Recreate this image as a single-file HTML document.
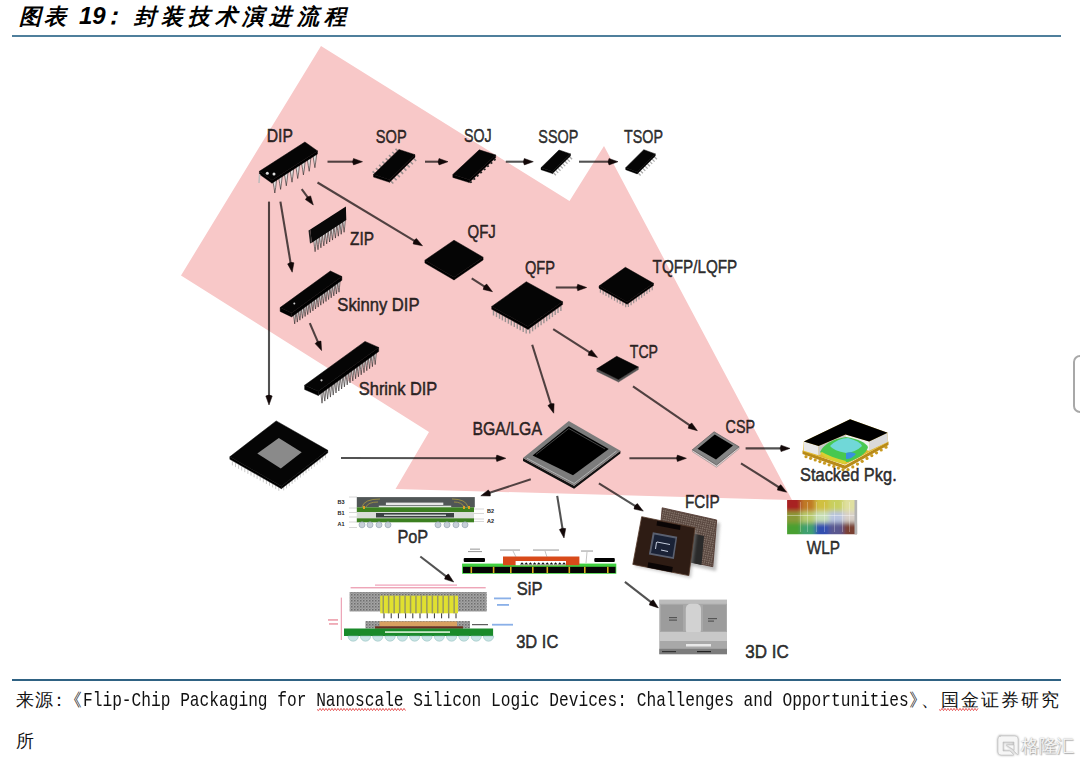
<!DOCTYPE html>
<html><head><meta charset="utf-8">
<style>
html,body{margin:0;padding:0;background:#fff;}
body{width:1080px;height:765px;position:relative;overflow:hidden;font-family:"Liberation Sans",sans-serif;}
svg{position:absolute;left:0;top:0;}
.t{position:absolute;white-space:nowrap;}
</style></head><body>
<svg width="1080" height="765" viewBox="0 0 1080 765">
<rect x="12" y="35" width="1049" height="2" fill="#4f7f9c"/>
<rect x="12" y="679" width="1049" height="2" fill="#2f6283"/>
<polygon points="321,46 569.5,201 604,146 792,500 395.5,489 429,432 181,275.5" fill="#f8c8c8"/>
<line x1="327.5" y1="161.7" x2="355.5" y2="161.7" stroke="#000" stroke-opacity="0.68" stroke-width="2.1"/><path d="M362.5,161.7 L353.5,164.9 Q351.7,161.7 353.5,158.5 Z" fill="#120808" stroke="#120808" stroke-width="0.5" stroke-linejoin="round"/>
<line x1="425.0" y1="161.7" x2="441.0" y2="161.7" stroke="#000" stroke-opacity="0.68" stroke-width="2.1"/><path d="M448.0,161.7 L439.0,164.9 Q437.2,161.7 439.0,158.5 Z" fill="#120808" stroke="#120808" stroke-width="0.5" stroke-linejoin="round"/>
<line x1="505.8" y1="161.7" x2="526.3" y2="161.7" stroke="#000" stroke-opacity="0.68" stroke-width="2.1"/><path d="M533.3,161.7 L524.3,164.9 Q522.5,161.7 524.3,158.5 Z" fill="#120808" stroke="#120808" stroke-width="0.5" stroke-linejoin="round"/>
<line x1="579.0" y1="161.7" x2="611.0" y2="161.7" stroke="#000" stroke-opacity="0.68" stroke-width="2.1"/><path d="M618.0,161.7 L609.0,164.9 Q607.2,161.7 609.0,158.5 Z" fill="#120808" stroke="#120808" stroke-width="0.5" stroke-linejoin="round"/>
<line x1="301.7" y1="189.2" x2="309.2" y2="199.4" stroke="#000" stroke-opacity="0.68" stroke-width="2.1"/><path d="M313.3,205.0 L305.4,199.6 Q306.9,196.3 310.6,195.9 Z" fill="#120808" stroke="#120808" stroke-width="0.5" stroke-linejoin="round"/>
<line x1="317.5" y1="182.5" x2="416.5" y2="242.2" stroke="#000" stroke-opacity="0.68" stroke-width="2.1"/><path d="M422.5,245.8 L413.1,243.9 Q413.3,240.2 416.4,238.4 Z" fill="#120808" stroke="#120808" stroke-width="0.5" stroke-linejoin="round"/>
<line x1="269.0" y1="201.6" x2="269.0" y2="398.0" stroke="#000" stroke-opacity="0.68" stroke-width="2.1"/><path d="M269.0,405.0 L265.8,396.0 Q269.0,394.2 272.2,396.0 Z" fill="#120808" stroke="#120808" stroke-width="0.5" stroke-linejoin="round"/>
<line x1="280.4" y1="201.6" x2="291.0" y2="265.3" stroke="#000" stroke-opacity="0.68" stroke-width="2.1"/><path d="M292.2,272.2 L287.6,263.9 Q290.4,261.5 293.9,262.8 Z" fill="#120808" stroke="#120808" stroke-width="0.5" stroke-linejoin="round"/>
<line x1="309.8" y1="323.1" x2="318.8" y2="344.2" stroke="#000" stroke-opacity="0.68" stroke-width="2.1"/><path d="M321.6,350.6 L315.1,343.6 Q317.3,340.7 321.0,341.1 Z" fill="#120808" stroke="#120808" stroke-width="0.5" stroke-linejoin="round"/>
<line x1="471.7" y1="278.3" x2="486.6" y2="287.9" stroke="#000" stroke-opacity="0.68" stroke-width="2.1"/><path d="M492.5,291.7 L483.2,289.5 Q483.4,285.9 486.7,284.1 Z" fill="#120808" stroke="#120808" stroke-width="0.5" stroke-linejoin="round"/>
<line x1="555.8" y1="287.5" x2="579.7" y2="287.5" stroke="#000" stroke-opacity="0.68" stroke-width="2.1"/><path d="M586.7,287.5 L577.7,290.7 Q575.9,287.5 577.7,284.3 Z" fill="#120808" stroke="#120808" stroke-width="0.5" stroke-linejoin="round"/>
<line x1="553.2" y1="329.2" x2="591.6" y2="353.6" stroke="#000" stroke-opacity="0.68" stroke-width="2.1"/><path d="M597.5,357.4 L588.2,355.3 Q588.4,351.6 591.6,349.9 Z" fill="#120808" stroke="#120808" stroke-width="0.5" stroke-linejoin="round"/>
<line x1="532.2" y1="344.8" x2="551.6" y2="406.5" stroke="#000" stroke-opacity="0.68" stroke-width="2.1"/><path d="M553.7,413.2 L547.9,405.6 Q550.5,402.9 554.1,403.7 Z" fill="#120808" stroke="#120808" stroke-width="0.5" stroke-linejoin="round"/>
<line x1="633.0" y1="386.4" x2="691.6" y2="426.7" stroke="#000" stroke-opacity="0.68" stroke-width="2.1"/><path d="M697.4,430.7 L688.2,428.2 Q688.5,424.6 691.8,423.0 Z" fill="#120808" stroke="#120808" stroke-width="0.5" stroke-linejoin="round"/>
<line x1="341.0" y1="458.0" x2="498.8" y2="458.3" stroke="#000" stroke-opacity="0.68" stroke-width="2.1"/><path d="M505.8,458.3 L496.8,461.5 Q495.0,458.3 496.8,455.1 Z" fill="#120808" stroke="#120808" stroke-width="0.5" stroke-linejoin="round"/>
<line x1="629.4" y1="458.3" x2="679.4" y2="458.3" stroke="#000" stroke-opacity="0.68" stroke-width="2.1"/><path d="M686.4,458.3 L677.4,461.5 Q675.6,458.3 677.4,455.1 Z" fill="#120808" stroke="#120808" stroke-width="0.5" stroke-linejoin="round"/>
<line x1="745.6" y1="448.4" x2="783.0" y2="448.4" stroke="#000" stroke-opacity="0.68" stroke-width="2.1"/><path d="M790.0,448.4 L781.0,451.6 Q779.2,448.4 781.0,445.2 Z" fill="#120808" stroke="#120808" stroke-width="0.5" stroke-linejoin="round"/>
<line x1="741.0" y1="463.3" x2="780.8" y2="488.5" stroke="#000" stroke-opacity="0.68" stroke-width="2.1"/><path d="M786.7,492.2 L777.4,490.1 Q777.6,486.4 780.8,484.7 Z" fill="#120808" stroke="#120808" stroke-width="0.5" stroke-linejoin="round"/>
<line x1="530.8" y1="479.2" x2="487.4" y2="493.6" stroke="#000" stroke-opacity="0.68" stroke-width="2.1"/><path d="M480.8,495.8 L488.3,489.9 Q491.0,492.4 490.3,496.0 Z" fill="#120808" stroke="#120808" stroke-width="0.5" stroke-linejoin="round"/>
<line x1="557.2" y1="495.8" x2="562.9" y2="531.1" stroke="#000" stroke-opacity="0.68" stroke-width="2.1"/><path d="M564.0,538.0 L559.4,529.6 Q562.3,527.3 565.7,528.6 Z" fill="#120808" stroke="#120808" stroke-width="0.5" stroke-linejoin="round"/>
<line x1="598.9" y1="483.3" x2="637.4" y2="507.4" stroke="#000" stroke-opacity="0.68" stroke-width="2.1"/><path d="M643.3,511.1 L634.0,509.0 Q634.1,505.4 637.4,503.6 Z" fill="#120808" stroke="#120808" stroke-width="0.5" stroke-linejoin="round"/>
<line x1="420.3" y1="556.5" x2="448.1" y2="577.8" stroke="#000" stroke-opacity="0.68" stroke-width="2.1"/><path d="M453.7,582.0 L444.6,579.1 Q445.1,575.4 448.5,574.0 Z" fill="#120808" stroke="#120808" stroke-width="0.5" stroke-linejoin="round"/>
<line x1="624.9" y1="581.8" x2="652.9" y2="603.6" stroke="#000" stroke-opacity="0.68" stroke-width="2.1"/><path d="M658.4,607.9 L649.3,604.9 Q649.9,601.3 653.3,599.8 Z" fill="#120808" stroke="#120808" stroke-width="0.5" stroke-linejoin="round"/>

<polygon points="272.8,180.5 276.6,179.3 275.7,187.4 274.8,193.0 274.0,187.4" fill="#e2dede" stroke="#1a1414" stroke-width="0.55" stroke-linejoin="round"/><polygon points="278.6,176.9 282.3,175.7 281.4,183.7 280.6,189.4 279.7,183.7" fill="#e2dede" stroke="#1a1414" stroke-width="0.55" stroke-linejoin="round"/><polygon points="284.3,173.3 288.1,172.1 287.1,180.1 286.3,185.8 285.4,180.1" fill="#e2dede" stroke="#1a1414" stroke-width="0.55" stroke-linejoin="round"/><polygon points="290.0,169.7 293.8,168.5 292.8,176.5 292.0,182.2 291.1,176.5" fill="#e2dede" stroke="#1a1414" stroke-width="0.55" stroke-linejoin="round"/><polygon points="295.7,166.0 299.5,164.9 298.6,172.9 297.7,178.5 296.9,172.9" fill="#e2dede" stroke="#1a1414" stroke-width="0.55" stroke-linejoin="round"/><polygon points="301.4,162.4 305.2,161.3 304.3,169.3 303.4,174.9 302.6,169.3" fill="#e2dede" stroke="#1a1414" stroke-width="0.55" stroke-linejoin="round"/><polygon points="307.2,158.8 310.9,157.7 310.0,165.7 309.2,171.3 308.3,165.7" fill="#e2dede" stroke="#1a1414" stroke-width="0.55" stroke-linejoin="round"/><polygon points="312.9,155.2 316.7,154.1 315.7,162.1 314.9,167.7 314.0,162.1" fill="#e2dede" stroke="#1a1414" stroke-width="0.55" stroke-linejoin="round"/>
<polygon points="259.4,171.3 272.0,180.2 272.0,183.2 259.4,174.3" fill="#000" stroke="#000" stroke-width="0.4"/><polygon points="272.0,180.2 317.5,150.9 317.5,153.9 272.0,183.2" fill="#000" stroke="#000" stroke-width="0.4"/><polygon points="259.4,171.3 304.9,142.0 317.5,150.9 272.0,180.2" fill="#050505" stroke="#050505" stroke-width="0.5" stroke-linejoin="round"/>
<circle cx="267.3" cy="173.3" r="1.5" fill="#ddd"/><circle cx="274" cy="173.9" r="1.5" fill="#ddd"/>
<line x1="259.6" y1="174" x2="259" y2="183" stroke="#bbb" stroke-width="1.5"/>
<line x1="390.8" y1="181.0" x2="393.3" y2="183.5" stroke="#9a9090" stroke-width="1.6"/><line x1="394.1" y1="177.8" x2="396.6" y2="180.3" stroke="#9a9090" stroke-width="1.6"/><line x1="397.3" y1="174.6" x2="399.8" y2="177.1" stroke="#9a9090" stroke-width="1.6"/><line x1="400.6" y1="171.4" x2="403.1" y2="173.9" stroke="#9a9090" stroke-width="1.6"/><line x1="403.9" y1="168.1" x2="406.4" y2="170.6" stroke="#9a9090" stroke-width="1.6"/><line x1="407.2" y1="164.9" x2="409.7" y2="167.4" stroke="#9a9090" stroke-width="1.6"/><line x1="410.4" y1="161.7" x2="412.9" y2="164.2" stroke="#9a9090" stroke-width="1.6"/><line x1="413.7" y1="158.5" x2="416.2" y2="161.0" stroke="#9a9090" stroke-width="1.6"/>
<line x1="374.8" y1="173.3" x2="372.6" y2="171.3" stroke="#9a9090" stroke-width="1.6"/><line x1="378.1" y1="170.1" x2="375.9" y2="168.1" stroke="#9a9090" stroke-width="1.6"/><line x1="381.3" y1="166.9" x2="379.1" y2="164.9" stroke="#9a9090" stroke-width="1.6"/><line x1="384.6" y1="163.7" x2="382.4" y2="161.7" stroke="#9a9090" stroke-width="1.6"/><line x1="387.9" y1="160.4" x2="385.7" y2="158.4" stroke="#9a9090" stroke-width="1.6"/><line x1="391.2" y1="157.2" x2="389.0" y2="155.2" stroke="#9a9090" stroke-width="1.6"/><line x1="394.4" y1="154.0" x2="392.2" y2="152.0" stroke="#9a9090" stroke-width="1.6"/><line x1="397.7" y1="150.8" x2="395.5" y2="148.8" stroke="#9a9090" stroke-width="1.6"/>
<polygon points="373.5,174.6 389.5,179.8 389.5,182.3 373.5,177.1" fill="#000" stroke="#000" stroke-width="0.4"/><polygon points="389.5,179.8 415.0,154.7 415.0,157.2 389.5,182.3" fill="#000" stroke="#000" stroke-width="0.4"/><polygon points="373.5,174.6 399.0,149.5 415.0,154.7 389.5,179.8" fill="#050505" stroke="#050505" stroke-width="0.5" stroke-linejoin="round"/>
<polygon points="452.8,174.6 469.2,179.8 469.2,182.6 452.8,177.4" fill="#000" stroke="#000" stroke-width="0.4"/><polygon points="469.2,179.8 495.7,155.0 495.7,157.8 469.2,182.6" fill="#000" stroke="#000" stroke-width="0.4"/><polygon points="452.8,174.6 479.3,149.8 495.7,155.0 469.2,179.8" fill="#050505" stroke="#050505" stroke-width="0.5" stroke-linejoin="round"/>
<line x1="470.5" y1="181.4" x2="471.3" y2="182.9" stroke="#222" stroke-width="2"/><line x1="473.9" y1="178.2" x2="474.7" y2="179.7" stroke="#222" stroke-width="2"/><line x1="477.3" y1="175.0" x2="478.1" y2="176.5" stroke="#222" stroke-width="2"/><line x1="480.7" y1="171.8" x2="481.5" y2="173.3" stroke="#222" stroke-width="2"/><line x1="484.2" y1="168.6" x2="485.0" y2="170.1" stroke="#222" stroke-width="2"/><line x1="487.6" y1="165.4" x2="488.4" y2="166.9" stroke="#222" stroke-width="2"/><line x1="491.0" y1="162.2" x2="491.8" y2="163.7" stroke="#222" stroke-width="2"/><line x1="494.4" y1="159.0" x2="495.2" y2="160.5" stroke="#222" stroke-width="2"/>
<line x1="553.4" y1="172.7" x2="555.9" y2="175.2" stroke="#aaa" stroke-width="1.3"/><line x1="555.7" y1="170.4" x2="558.2" y2="172.9" stroke="#aaa" stroke-width="1.3"/><line x1="558.0" y1="168.2" x2="560.5" y2="170.7" stroke="#aaa" stroke-width="1.3"/><line x1="560.3" y1="165.9" x2="562.8" y2="168.4" stroke="#aaa" stroke-width="1.3"/><line x1="562.7" y1="163.6" x2="565.2" y2="166.1" stroke="#aaa" stroke-width="1.3"/><line x1="565.0" y1="161.3" x2="567.5" y2="163.8" stroke="#aaa" stroke-width="1.3"/><line x1="567.3" y1="159.1" x2="569.8" y2="161.6" stroke="#aaa" stroke-width="1.3"/><line x1="569.6" y1="156.8" x2="572.1" y2="159.3" stroke="#aaa" stroke-width="1.3"/>
<polygon points="541.0,167.7 552.5,171.6 552.5,173.6 541.0,169.7" fill="#000" stroke="#000" stroke-width="0.4"/><polygon points="552.5,171.6 570.5,153.9 570.5,155.9 552.5,173.6" fill="#000" stroke="#000" stroke-width="0.4"/><polygon points="541.0,167.7 559.0,150.0 570.5,153.9 552.5,171.6" fill="#050505" stroke="#050505" stroke-width="0.5" stroke-linejoin="round"/>
<line x1="638.1" y1="173.0" x2="640.6" y2="175.5" stroke="#aaa" stroke-width="1.3"/><line x1="640.4" y1="170.7" x2="642.9" y2="173.2" stroke="#aaa" stroke-width="1.3"/><line x1="642.8" y1="168.4" x2="645.3" y2="170.9" stroke="#aaa" stroke-width="1.3"/><line x1="645.1" y1="166.1" x2="647.6" y2="168.6" stroke="#aaa" stroke-width="1.3"/><line x1="647.4" y1="163.7" x2="649.9" y2="166.2" stroke="#aaa" stroke-width="1.3"/><line x1="649.7" y1="161.4" x2="652.2" y2="163.9" stroke="#aaa" stroke-width="1.3"/><line x1="652.1" y1="159.1" x2="654.6" y2="161.6" stroke="#aaa" stroke-width="1.3"/><line x1="654.4" y1="156.8" x2="656.9" y2="159.3" stroke="#aaa" stroke-width="1.3"/>
<polygon points="625.7,167.7 637.2,171.9 637.2,173.9 625.7,169.7" fill="#000" stroke="#000" stroke-width="0.4"/><polygon points="637.2,171.9 655.3,153.9 655.3,155.9 637.2,173.9" fill="#000" stroke="#000" stroke-width="0.4"/><polygon points="625.7,167.7 643.8,149.7 655.3,153.9 637.2,171.9" fill="#050505" stroke="#050505" stroke-width="0.5" stroke-linejoin="round"/>
<polygon points="313.6,239.7 316.4,238.8 315.7,246.3 315.1,251.7 314.4,246.3" fill="#e2dede" stroke="#1a1414" stroke-width="0.55" stroke-linejoin="round"/><polygon points="316.5,237.7 319.3,236.9 318.6,244.3 318.0,249.7 317.3,244.3" fill="#e2dede" stroke="#1a1414" stroke-width="0.55" stroke-linejoin="round"/><polygon points="319.4,235.8 322.2,235.0 321.5,242.4 320.9,247.8 320.2,242.4" fill="#e2dede" stroke="#1a1414" stroke-width="0.55" stroke-linejoin="round"/><polygon points="322.3,233.9 325.1,233.0 324.4,240.5 323.8,245.9 323.1,240.5" fill="#e2dede" stroke="#1a1414" stroke-width="0.55" stroke-linejoin="round"/><polygon points="325.2,231.9 328.0,231.1 327.3,238.5 326.7,243.9 326.0,238.5" fill="#e2dede" stroke="#1a1414" stroke-width="0.55" stroke-linejoin="round"/><polygon points="328.1,230.0 330.9,229.2 330.2,236.6 329.6,242.0 328.9,236.6" fill="#e2dede" stroke="#1a1414" stroke-width="0.55" stroke-linejoin="round"/><polygon points="331.0,228.1 333.8,227.2 333.1,234.7 332.5,240.1 331.8,234.7" fill="#e2dede" stroke="#1a1414" stroke-width="0.55" stroke-linejoin="round"/><polygon points="333.9,226.1 336.7,225.3 336.0,232.7 335.4,238.1 334.7,232.7" fill="#e2dede" stroke="#1a1414" stroke-width="0.55" stroke-linejoin="round"/><polygon points="336.8,224.2 339.6,223.4 338.9,230.8 338.3,236.2 337.7,230.8" fill="#e2dede" stroke="#1a1414" stroke-width="0.55" stroke-linejoin="round"/><polygon points="339.7,222.3 342.5,221.4 341.8,228.9 341.2,234.3 340.6,228.9" fill="#e2dede" stroke="#1a1414" stroke-width="0.55" stroke-linejoin="round"/><polygon points="342.6,220.3 345.4,219.5 344.7,226.9 344.1,232.3 343.5,226.9" fill="#e2dede" stroke="#1a1414" stroke-width="0.55" stroke-linejoin="round"/>
<polygon points="310.2,229.5 345.9,206.4 346.3,220.1 311.8,242.8" fill="#080808"/>
<polygon points="308.5,230.5 310.2,229.5 311.8,242.8 310.0,243.5" fill="#222"/>
<polygon points="293.4,313.4 295.9,312.7 295.2,319.2 294.7,323.9 294.1,319.2" fill="#e2dede" stroke="#1a1414" stroke-width="0.55" stroke-linejoin="round"/><polygon points="296.0,311.6 298.5,310.8 297.8,317.3 297.3,322.1 296.7,317.3" fill="#e2dede" stroke="#1a1414" stroke-width="0.55" stroke-linejoin="round"/><polygon points="298.6,309.7 301.1,308.9 300.5,315.5 299.9,320.2 299.3,315.5" fill="#e2dede" stroke="#1a1414" stroke-width="0.55" stroke-linejoin="round"/><polygon points="301.2,307.8 303.7,307.1 303.1,313.6 302.5,318.3 301.9,313.6" fill="#e2dede" stroke="#1a1414" stroke-width="0.55" stroke-linejoin="round"/><polygon points="303.8,306.0 306.3,305.2 305.7,311.7 305.1,316.5 304.5,311.7" fill="#e2dede" stroke="#1a1414" stroke-width="0.55" stroke-linejoin="round"/><polygon points="306.4,304.1 308.9,303.3 308.3,309.9 307.7,314.6 307.1,309.9" fill="#e2dede" stroke="#1a1414" stroke-width="0.55" stroke-linejoin="round"/><polygon points="309.0,302.2 311.5,301.5 310.9,308.0 310.3,312.7 309.7,308.0" fill="#e2dede" stroke="#1a1414" stroke-width="0.55" stroke-linejoin="round"/><polygon points="311.6,300.4 314.1,299.6 313.5,306.1 312.9,310.9 312.3,306.1" fill="#e2dede" stroke="#1a1414" stroke-width="0.55" stroke-linejoin="round"/><polygon points="314.2,298.5 316.7,297.7 316.1,304.3 315.5,309.0 314.9,304.3" fill="#e2dede" stroke="#1a1414" stroke-width="0.55" stroke-linejoin="round"/><polygon points="316.8,296.6 319.3,295.9 318.7,302.4 318.2,307.1 317.6,302.4" fill="#e2dede" stroke="#1a1414" stroke-width="0.55" stroke-linejoin="round"/><polygon points="319.4,294.7 321.9,294.0 321.3,300.5 320.8,305.2 320.2,300.5" fill="#e2dede" stroke="#1a1414" stroke-width="0.55" stroke-linejoin="round"/><polygon points="322.0,292.9 324.5,292.1 323.9,298.7 323.4,303.4 322.8,298.7" fill="#e2dede" stroke="#1a1414" stroke-width="0.55" stroke-linejoin="round"/><polygon points="324.6,291.0 327.1,290.3 326.5,296.8 326.0,301.5 325.4,296.8" fill="#e2dede" stroke="#1a1414" stroke-width="0.55" stroke-linejoin="round"/><polygon points="327.2,289.1 329.7,288.4 329.1,294.9 328.6,299.6 328.0,294.9" fill="#e2dede" stroke="#1a1414" stroke-width="0.55" stroke-linejoin="round"/><polygon points="329.8,287.3 332.3,286.5 331.7,293.0 331.2,297.8 330.6,293.0" fill="#e2dede" stroke="#1a1414" stroke-width="0.55" stroke-linejoin="round"/><polygon points="332.4,285.4 334.9,284.7 334.3,291.2 333.8,295.9 333.2,291.2" fill="#e2dede" stroke="#1a1414" stroke-width="0.55" stroke-linejoin="round"/><polygon points="335.0,283.5 337.5,282.8 336.9,289.3 336.4,294.0 335.8,289.3" fill="#e2dede" stroke="#1a1414" stroke-width="0.55" stroke-linejoin="round"/><polygon points="337.6,281.7 340.1,280.9 339.5,287.4 339.0,292.2 338.4,287.4" fill="#e2dede" stroke="#1a1414" stroke-width="0.55" stroke-linejoin="round"/>
<polygon points="280.1,307.6 291.6,313.1 291.6,316.9 280.1,311.4" fill="#000" stroke="#000" stroke-width="0.4"/><polygon points="291.6,313.1 341.9,276.5 341.9,280.3 291.6,316.9" fill="#000" stroke="#000" stroke-width="0.4"/><polygon points="280.1,307.6 330.4,271.0 341.9,276.5 291.6,313.1" fill="#050505" stroke="#050505" stroke-width="0.5" stroke-linejoin="round"/>
<circle cx="294.3" cy="303.5" r="1" fill="#ccc"/>
<polygon points="320.6,391.7 323.2,390.9 322.6,398.0 322.0,403.2 321.4,398.0" fill="#e2dede" stroke="#1a1414" stroke-width="0.55" stroke-linejoin="round"/><polygon points="323.4,389.6 326.0,388.9 325.4,396.0 324.8,401.1 324.2,396.0" fill="#e2dede" stroke="#1a1414" stroke-width="0.55" stroke-linejoin="round"/><polygon points="326.2,387.6 328.8,386.8 328.2,393.9 327.6,399.1 327.0,393.9" fill="#e2dede" stroke="#1a1414" stroke-width="0.55" stroke-linejoin="round"/><polygon points="329.0,385.6 331.6,384.8 331.0,391.9 330.4,397.1 329.8,391.9" fill="#e2dede" stroke="#1a1414" stroke-width="0.55" stroke-linejoin="round"/><polygon points="331.8,383.6 334.4,382.8 333.8,389.9 333.2,395.1 332.6,389.9" fill="#e2dede" stroke="#1a1414" stroke-width="0.55" stroke-linejoin="round"/><polygon points="334.6,381.5 337.2,380.7 336.6,387.9 336.0,393.0 335.4,387.9" fill="#e2dede" stroke="#1a1414" stroke-width="0.55" stroke-linejoin="round"/><polygon points="337.4,379.5 340.0,378.7 339.4,385.8 338.8,391.0 338.2,385.8" fill="#e2dede" stroke="#1a1414" stroke-width="0.55" stroke-linejoin="round"/><polygon points="340.2,377.5 342.8,376.7 342.2,383.8 341.6,389.0 341.0,383.8" fill="#e2dede" stroke="#1a1414" stroke-width="0.55" stroke-linejoin="round"/><polygon points="343.0,375.4 345.6,374.7 345.0,381.8 344.4,386.9 343.8,381.8" fill="#e2dede" stroke="#1a1414" stroke-width="0.55" stroke-linejoin="round"/><polygon points="345.8,373.4 348.4,372.6 347.8,379.7 347.2,384.9 346.6,379.7" fill="#e2dede" stroke="#1a1414" stroke-width="0.55" stroke-linejoin="round"/><polygon points="348.6,371.4 351.2,370.6 350.5,377.7 350.0,382.9 349.4,377.7" fill="#e2dede" stroke="#1a1414" stroke-width="0.55" stroke-linejoin="round"/><polygon points="351.4,369.4 354.0,368.6 353.3,375.7 352.8,380.9 352.2,375.7" fill="#e2dede" stroke="#1a1414" stroke-width="0.55" stroke-linejoin="round"/><polygon points="354.2,367.3 356.8,366.5 356.1,373.7 355.6,378.8 355.0,373.7" fill="#e2dede" stroke="#1a1414" stroke-width="0.55" stroke-linejoin="round"/><polygon points="357.0,365.3 359.6,364.5 358.9,371.6 358.4,376.8 357.8,371.6" fill="#e2dede" stroke="#1a1414" stroke-width="0.55" stroke-linejoin="round"/><polygon points="359.8,363.3 362.4,362.5 361.7,369.6 361.2,374.8 360.6,369.6" fill="#e2dede" stroke="#1a1414" stroke-width="0.55" stroke-linejoin="round"/><polygon points="362.6,361.2 365.2,360.5 364.5,367.6 364.0,372.7 363.4,367.6" fill="#e2dede" stroke="#1a1414" stroke-width="0.55" stroke-linejoin="round"/><polygon points="365.4,359.2 368.0,358.4 367.3,365.5 366.8,370.7 366.2,365.5" fill="#e2dede" stroke="#1a1414" stroke-width="0.55" stroke-linejoin="round"/><polygon points="368.2,357.2 370.8,356.4 370.1,363.5 369.6,368.7 369.0,363.5" fill="#e2dede" stroke="#1a1414" stroke-width="0.55" stroke-linejoin="round"/><polygon points="371.0,355.2 373.6,354.4 372.9,361.5 372.4,366.7 371.8,361.5" fill="#e2dede" stroke="#1a1414" stroke-width="0.55" stroke-linejoin="round"/><polygon points="373.8,353.1 376.4,352.3 375.7,359.5 375.2,364.6 374.6,359.5" fill="#e2dede" stroke="#1a1414" stroke-width="0.55" stroke-linejoin="round"/>
<polygon points="304.6,385.3 318.3,391.3 318.3,395.5 304.6,389.5" fill="#000" stroke="#000" stroke-width="0.4"/><polygon points="318.3,391.3 378.7,347.4 378.7,351.6 318.3,395.5" fill="#000" stroke="#000" stroke-width="0.4"/><polygon points="304.6,385.3 365.0,341.4 378.7,347.4 318.3,391.3" fill="#050505" stroke="#050505" stroke-width="0.5" stroke-linejoin="round"/>
<circle cx="321.5" cy="380.3" r="1.1" fill="#ccc"/>
<polygon points="424.9,260.2 454.0,277.2 454.0,280.0 424.9,263.0" fill="#000" stroke="#000" stroke-width="0.4"/><polygon points="454.0,277.2 483.1,257.2 483.1,260.0 454.0,280.0" fill="#000" stroke="#000" stroke-width="0.4"/><polygon points="424.9,260.2 454.0,240.2 483.1,257.2 454.0,277.2" fill="#050505" stroke="#050505" stroke-width="0.5" stroke-linejoin="round"/>
<line x1="493.5" y1="310.5" x2="493.5" y2="315.5" stroke="#9a9292" stroke-width="1.4"/><line x1="496.5" y1="312.1" x2="496.5" y2="317.1" stroke="#9a9292" stroke-width="1.4"/><line x1="499.5" y1="313.8" x2="499.5" y2="318.8" stroke="#9a9292" stroke-width="1.4"/><line x1="502.4" y1="315.4" x2="502.4" y2="320.4" stroke="#9a9292" stroke-width="1.4"/><line x1="505.4" y1="317.1" x2="505.4" y2="322.1" stroke="#9a9292" stroke-width="1.4"/><line x1="508.4" y1="318.7" x2="508.4" y2="323.7" stroke="#9a9292" stroke-width="1.4"/><line x1="511.3" y1="320.4" x2="511.3" y2="325.4" stroke="#9a9292" stroke-width="1.4"/><line x1="514.3" y1="322.0" x2="514.3" y2="327.0" stroke="#9a9292" stroke-width="1.4"/><line x1="517.3" y1="323.7" x2="517.3" y2="328.7" stroke="#9a9292" stroke-width="1.4"/><line x1="520.2" y1="325.3" x2="520.2" y2="330.3" stroke="#9a9292" stroke-width="1.4"/><line x1="523.2" y1="327.0" x2="523.2" y2="332.0" stroke="#9a9292" stroke-width="1.4"/><line x1="526.2" y1="328.6" x2="526.2" y2="333.6" stroke="#9a9292" stroke-width="1.4"/>
<line x1="529.7" y1="328.4" x2="529.7" y2="333.4" stroke="#9a9292" stroke-width="1.4"/><line x1="532.6" y1="326.3" x2="532.6" y2="331.3" stroke="#9a9292" stroke-width="1.4"/><line x1="535.4" y1="324.3" x2="535.4" y2="329.3" stroke="#9a9292" stroke-width="1.4"/><line x1="538.2" y1="322.3" x2="538.2" y2="327.3" stroke="#9a9292" stroke-width="1.4"/><line x1="541.1" y1="320.2" x2="541.1" y2="325.2" stroke="#9a9292" stroke-width="1.4"/><line x1="543.9" y1="318.2" x2="543.9" y2="323.2" stroke="#9a9292" stroke-width="1.4"/><line x1="546.7" y1="316.2" x2="546.7" y2="321.2" stroke="#9a9292" stroke-width="1.4"/><line x1="549.5" y1="314.2" x2="549.5" y2="319.2" stroke="#9a9292" stroke-width="1.4"/><line x1="552.4" y1="312.1" x2="552.4" y2="317.1" stroke="#9a9292" stroke-width="1.4"/><line x1="555.2" y1="310.1" x2="555.2" y2="315.1" stroke="#9a9292" stroke-width="1.4"/><line x1="558.0" y1="308.1" x2="558.0" y2="313.1" stroke="#9a9292" stroke-width="1.4"/><line x1="560.9" y1="306.0" x2="560.9" y2="311.0" stroke="#9a9292" stroke-width="1.4"/>
<polygon points="491.7,306.5 528.0,326.6 528.0,329.4 491.7,309.3" fill="#000" stroke="#000" stroke-width="0.4"/><polygon points="528.0,326.6 562.6,301.8 562.6,304.6 528.0,329.4" fill="#000" stroke="#000" stroke-width="0.4"/><polygon points="491.7,306.5 526.3,281.7 562.6,301.8 528.0,326.6" fill="#050505" stroke="#050505" stroke-width="0.5" stroke-linejoin="round"/>
<line x1="600.4" y1="288.8" x2="600.4" y2="292.8" stroke="#9a9292" stroke-width="1.2"/><line x1="603.2" y1="290.4" x2="603.2" y2="294.4" stroke="#9a9292" stroke-width="1.2"/><line x1="606.0" y1="292.0" x2="606.0" y2="296.0" stroke="#9a9292" stroke-width="1.2"/><line x1="608.8" y1="293.6" x2="608.8" y2="297.6" stroke="#9a9292" stroke-width="1.2"/><line x1="611.6" y1="295.2" x2="611.6" y2="299.2" stroke="#9a9292" stroke-width="1.2"/><line x1="614.5" y1="296.8" x2="614.5" y2="300.8" stroke="#9a9292" stroke-width="1.2"/><line x1="617.3" y1="298.4" x2="617.3" y2="302.4" stroke="#9a9292" stroke-width="1.2"/><line x1="620.1" y1="300.0" x2="620.1" y2="304.0" stroke="#9a9292" stroke-width="1.2"/><line x1="622.9" y1="301.6" x2="622.9" y2="305.6" stroke="#9a9292" stroke-width="1.2"/><line x1="625.7" y1="303.2" x2="625.7" y2="307.2" stroke="#9a9292" stroke-width="1.2"/>
<line x1="628.4" y1="303.1" x2="628.4" y2="307.1" stroke="#9a9292" stroke-width="1.2"/><line x1="631.1" y1="301.2" x2="631.1" y2="305.2" stroke="#9a9292" stroke-width="1.2"/><line x1="633.7" y1="299.3" x2="633.7" y2="303.3" stroke="#9a9292" stroke-width="1.2"/><line x1="636.3" y1="297.5" x2="636.3" y2="301.5" stroke="#9a9292" stroke-width="1.2"/><line x1="639.0" y1="295.6" x2="639.0" y2="299.6" stroke="#9a9292" stroke-width="1.2"/><line x1="641.6" y1="293.7" x2="641.6" y2="297.7" stroke="#9a9292" stroke-width="1.2"/><line x1="644.3" y1="291.8" x2="644.3" y2="295.8" stroke="#9a9292" stroke-width="1.2"/><line x1="646.9" y1="290.0" x2="646.9" y2="294.0" stroke="#9a9292" stroke-width="1.2"/><line x1="649.5" y1="288.1" x2="649.5" y2="292.1" stroke="#9a9292" stroke-width="1.2"/><line x1="652.2" y1="286.2" x2="652.2" y2="290.2" stroke="#9a9292" stroke-width="1.2"/>
<polygon points="599.0,286.0 627.1,302.0 627.1,304.2 599.0,288.2" fill="#000" stroke="#000" stroke-width="0.4"/><polygon points="627.1,302.0 653.5,283.3 653.5,285.5 627.1,304.2" fill="#000" stroke="#000" stroke-width="0.4"/><polygon points="599.0,286.0 625.4,267.3 653.5,283.3 627.1,302.0" fill="#050505" stroke="#050505" stroke-width="0.5" stroke-linejoin="round"/>
<polygon points="596.8,368.8 618.5,379.5 618.5,382.1 596.8,371.4" fill="#555" stroke="#555" stroke-width="0.4"/><polygon points="618.5,379.5 638.4,367.0 638.4,369.6 618.5,382.1" fill="#555" stroke="#555" stroke-width="0.4"/><polygon points="596.8,368.8 616.7,356.3 638.4,367.0 618.5,379.5" fill="#050505" stroke="#050505" stroke-width="0.5" stroke-linejoin="round"/>
<line x1="232.4" y1="461.4" x2="232.4" y2="465.4" stroke="#c8c8c8" stroke-width="1"/><line x1="235.5" y1="463.1" x2="235.5" y2="467.1" stroke="#c8c8c8" stroke-width="1"/><line x1="238.6" y1="464.8" x2="238.6" y2="468.8" stroke="#c8c8c8" stroke-width="1"/><line x1="241.7" y1="466.5" x2="241.7" y2="470.5" stroke="#c8c8c8" stroke-width="1"/><line x1="244.8" y1="468.2" x2="244.8" y2="472.2" stroke="#c8c8c8" stroke-width="1"/><line x1="247.9" y1="469.9" x2="247.9" y2="473.9" stroke="#c8c8c8" stroke-width="1"/><line x1="251.0" y1="471.6" x2="251.0" y2="475.6" stroke="#c8c8c8" stroke-width="1"/><line x1="254.1" y1="473.3" x2="254.1" y2="477.3" stroke="#c8c8c8" stroke-width="1"/><line x1="257.1" y1="474.9" x2="257.1" y2="478.9" stroke="#c8c8c8" stroke-width="1"/><line x1="260.2" y1="476.6" x2="260.2" y2="480.6" stroke="#c8c8c8" stroke-width="1"/><line x1="263.3" y1="478.3" x2="263.3" y2="482.3" stroke="#c8c8c8" stroke-width="1"/><line x1="266.4" y1="480.0" x2="266.4" y2="484.0" stroke="#c8c8c8" stroke-width="1"/><line x1="269.5" y1="481.7" x2="269.5" y2="485.7" stroke="#c8c8c8" stroke-width="1"/><line x1="272.6" y1="483.4" x2="272.6" y2="487.4" stroke="#c8c8c8" stroke-width="1"/><line x1="275.7" y1="485.1" x2="275.7" y2="489.1" stroke="#c8c8c8" stroke-width="1"/><line x1="278.8" y1="486.8" x2="278.8" y2="490.8" stroke="#c8c8c8" stroke-width="1"/>
<line x1="283.7" y1="486.4" x2="283.7" y2="490.4" stroke="#c8c8c8" stroke-width="1"/><line x1="286.5" y1="484.3" x2="286.5" y2="488.3" stroke="#c8c8c8" stroke-width="1"/><line x1="289.3" y1="482.1" x2="289.3" y2="486.1" stroke="#c8c8c8" stroke-width="1"/><line x1="292.1" y1="479.9" x2="292.1" y2="483.9" stroke="#c8c8c8" stroke-width="1"/><line x1="294.9" y1="477.8" x2="294.9" y2="481.8" stroke="#c8c8c8" stroke-width="1"/><line x1="297.6" y1="475.6" x2="297.6" y2="479.6" stroke="#c8c8c8" stroke-width="1"/><line x1="300.4" y1="473.5" x2="300.4" y2="477.5" stroke="#c8c8c8" stroke-width="1"/><line x1="303.2" y1="471.3" x2="303.2" y2="475.3" stroke="#c8c8c8" stroke-width="1"/><line x1="306.0" y1="469.2" x2="306.0" y2="473.2" stroke="#c8c8c8" stroke-width="1"/><line x1="308.8" y1="467.0" x2="308.8" y2="471.0" stroke="#c8c8c8" stroke-width="1"/><line x1="311.6" y1="464.9" x2="311.6" y2="468.9" stroke="#c8c8c8" stroke-width="1"/><line x1="314.3" y1="462.7" x2="314.3" y2="466.7" stroke="#c8c8c8" stroke-width="1"/><line x1="317.1" y1="460.6" x2="317.1" y2="464.6" stroke="#c8c8c8" stroke-width="1"/><line x1="319.9" y1="458.4" x2="319.9" y2="462.4" stroke="#c8c8c8" stroke-width="1"/><line x1="322.7" y1="456.2" x2="322.7" y2="460.2" stroke="#c8c8c8" stroke-width="1"/><line x1="325.5" y1="454.1" x2="325.5" y2="458.1" stroke="#c8c8c8" stroke-width="1"/>
<polygon points="229.8,456.8 281.4,486.2 281.4,488.7 229.8,459.3" fill="#000" stroke="#000" stroke-width="0.4"/><polygon points="281.4,486.2 327.8,450.3 327.8,452.8 281.4,488.7" fill="#000" stroke="#000" stroke-width="0.4"/><polygon points="229.8,456.8 276.2,420.9 327.8,450.3 281.4,486.2" fill="#050505" stroke="#050505" stroke-width="0.5" stroke-linejoin="round"/>
<polygon points="257.3,453.6 278.8,437.9 301.7,452.3 280.8,468.6" fill="#8a8a8a"/>
<polygon points="523.0,458.1 574.1,485.8 620.4,450.7 620.4,453.5 574.1,488.8 523.0,461.0" fill="#111"/>
<polygon points="523.0,458.1 568.8,420.9 620.4,450.7 574.1,485.8" fill="#7c7c7c"/>
<polygon points="532.6,455.5 568.8,426.2 608.7,449.1 573.0,475.2" fill="#000"/>
<polyline points="536.0,454.5 568.8,428.5 605.0,449.0" fill="none" stroke="#555" stroke-width="0.8"/>
<polyline points="527.0,458.3 574.1,483.5 616.5,451.0" fill="none" stroke="#b8b8b8" stroke-width="0.9"/>
<polygon points="692.4,449.7 716.5,465.0 739.1,446.8 739.1,448.8 716.5,467.3 692.4,451.7" fill="#d8d0d0" stroke="#8a8080" stroke-width="0.5"/>
<polygon points="692.4,449.7 714.1,431.8 739.1,446.8 716.5,465.0" fill="#858585" stroke="#5a5a5a" stroke-width="0.7"/>
<polygon points="697.5,448.8 714.8,434.5 733.0,445.5 716.0,459.5" fill="#000"/>
<polygon points="802.5,450.5 845.0,465.5 888.5,441.5 888.5,445.0 845.0,469.0 802.5,454.0" fill="#b88a18"/>
<circle cx="806.0" cy="456.7" r="1.6" fill="#c89a20"/>
<circle cx="810.6" cy="458.3" r="1.6" fill="#c89a20"/>
<circle cx="815.2" cy="459.9" r="1.6" fill="#c89a20"/>
<circle cx="819.9" cy="461.6" r="1.6" fill="#c89a20"/>
<circle cx="824.5" cy="463.2" r="1.6" fill="#c89a20"/>
<circle cx="829.1" cy="464.8" r="1.6" fill="#c89a20"/>
<circle cx="833.8" cy="466.4" r="1.6" fill="#c89a20"/>
<circle cx="838.4" cy="468.1" r="1.6" fill="#c89a20"/>
<circle cx="843.0" cy="469.7" r="1.6" fill="#c89a20"/>
<circle cx="848.0" cy="469.7" r="1.6" fill="#c89a20"/>
<circle cx="852.8" cy="466.9" r="1.6" fill="#c89a20"/>
<circle cx="857.5" cy="464.1" r="1.6" fill="#c89a20"/>
<circle cx="862.2" cy="461.3" r="1.6" fill="#c89a20"/>
<circle cx="867.0" cy="458.4" r="1.6" fill="#c89a20"/>
<circle cx="871.8" cy="455.6" r="1.6" fill="#c89a20"/>
<circle cx="876.5" cy="452.8" r="1.6" fill="#c89a20"/>
<circle cx="881.2" cy="450.0" r="1.6" fill="#c89a20"/>
<circle cx="886.0" cy="447.2" r="1.6" fill="#c89a20"/>
<polygon points="803.8,441.5 850.1,419.3 887.6,432.7 887.6,442.4 845.0,464.8 803.0,451.5" fill="#e0b830"/>
<polygon points="803.8,441.5 818.6,446.1 818.6,455.3 803.8,450.7" fill="#e8e8e8"/>
<polygon points="869.1,441.5 887.6,432.7 887.6,441.9 869.1,450.7" fill="#dadada"/>
<polygon points="818.6,446.1 845.5,434.5 845.5,443.7 818.6,455.3" fill="#c8c8c8"/>
<polygon points="845.5,434.5 869.1,441.5 869.1,450.7 845.5,443.7" fill="#f0f0f0"/>
<path d="M820,452 Q826,440 846,437 Q864,440 868,447 Q866,456 848,462 Q828,461 820,452 Z" fill="#48c850"/>
<path d="M830,446 Q838,438 848,438 Q860,441 862,446 Q856,452 846,453 Q834,451 830,446 Z" fill="#70d8d8"/>
<path d="M846,453 Q852,451 856,454 Q852,459 846,459 Z" fill="#3a90e0"/>
<path d="M822,452 Q830,457 846,461 L845,464 Q828,461 820,453 Z" fill="#d8d030"/>
<polygon points="803.8,441.5 850.1,419.3 887.6,432.7 869.1,441.5 845.5,434.5 818.6,446.1" fill="#000"/>
<defs>
<linearGradient id="wl1" x1="0" y1="0" x2="1" y2="1">
<stop offset="0" stop-color="#b02020"/><stop offset="0.3" stop-color="#c8c830"/><stop offset="0.55" stop-color="#70b040"/><stop offset="0.8" stop-color="#3050a0"/><stop offset="1" stop-color="#7a3a20"/></linearGradient>
<linearGradient id="wl2" x1="0" y1="0" x2="0" y2="1">
<stop offset="0" stop-color="#fff" stop-opacity="0"/><stop offset="0.5" stop-color="#fff" stop-opacity="0.35"/><stop offset="1" stop-color="#fff" stop-opacity="0"/></linearGradient>
</defs>
<defs><filter id="bl1" x="-5%" y="-5%" width="110%" height="110%"><feGaussianBlur stdDeviation="2.2"/></filter><clipPath id="wlc"><rect x="787.1" y="500" width="70" height="34.2"/></clipPath></defs>
<g clip-path="url(#wlc)"><g filter="url(#bl1)">
<rect x="779.1" y="492.0" width="22.5" height="19.9" fill="#a82420"/>
<rect x="801.1" y="492.0" width="14.5" height="19.9" fill="#c07a28"/>
<rect x="815.1" y="492.0" width="14.5" height="19.9" fill="#d0c040"/>
<rect x="829.1" y="492.0" width="14.5" height="19.9" fill="#c8d060"/>
<rect x="843.1" y="492.0" width="22.5" height="19.9" fill="#e0e0a0"/>
<rect x="779.1" y="511.4" width="22.5" height="11.9" fill="#8a9a38"/>
<rect x="801.1" y="511.4" width="14.5" height="11.9" fill="#b8cc70"/>
<rect x="815.1" y="511.4" width="14.5" height="11.9" fill="#c8e0b8"/>
<rect x="829.1" y="511.4" width="14.5" height="11.9" fill="#b8c4e0"/>
<rect x="843.1" y="511.4" width="22.5" height="11.9" fill="#d8d0c8"/>
<rect x="779.1" y="522.8" width="22.5" height="19.9" fill="#4aa030"/>
<rect x="801.1" y="522.8" width="14.5" height="19.9" fill="#40a070"/>
<rect x="815.1" y="522.8" width="14.5" height="19.9" fill="#3050b0"/>
<rect x="829.1" y="522.8" width="14.5" height="19.9" fill="#5a5890"/>
<rect x="843.1" y="522.8" width="22.5" height="19.9" fill="#7a4030"/>
</g>
<rect x="800" y="502" width="0.8" height="30" fill="#fff" opacity="0.35"/>
<rect x="807" y="502" width="0.8" height="30" fill="#fff" opacity="0.35"/>
<rect x="816" y="502" width="0.8" height="30" fill="#fff" opacity="0.35"/>
<rect x="824" y="502" width="0.8" height="30" fill="#fff" opacity="0.35"/>
<rect x="834" y="502" width="0.8" height="30" fill="#fff" opacity="0.35"/>
<rect x="842" y="502" width="0.8" height="30" fill="#fff" opacity="0.35"/>
<rect x="849" y="502" width="0.8" height="30" fill="#fff" opacity="0.35"/>
<rect x="787.1" y="515" width="70" height="1" fill="#fff" opacity="0.4"/>
</g>
<rect x="854.5" y="500" width="2.6" height="34.2" fill="#b4b4b4"/>
<defs><pattern id="grid" width="2.2" height="2.2" patternUnits="userSpaceOnUse" patternTransform="rotate(12)"><rect width="2.2" height="2.2" fill="#5a4840"/><rect width="1.2" height="1.2" fill="#8a7a70"/></pattern><filter id="sh1" x="-20%" y="-20%" width="150%" height="150%"><feGaussianBlur stdDeviation="1.5"/></filter></defs>
<polygon points="665.0,511.0 720.0,523.0 716.0,571.0 661.0,559.0" fill="#888" opacity="0.55" filter="url(#sh1)"/>
<polygon points="662.2,507.8 716.7,520.0 712.8,566.7 658.0,555.0" fill="url(#grid)" stroke="#4a3028" stroke-width="0.8"/>
<polygon points="692.5,533.5 704.0,536.0 701.5,565.0 690.0,562.5" fill="#2a2a2a"/>
<polygon points="643.0,519.0 697.0,530.0 691.0,578.0 635.0,566.5" fill="#999" opacity="0.5" filter="url(#sh1)"/>
<polygon points="641.7,516.7 695.0,527.8 688.9,575.6 632.8,564.4" fill="#2e1c14" stroke="#54382a" stroke-width="0.8"/>
<polygon points="657.2,521.1 680.6,525.5 680.0,530.0 656.5,525.5" fill="#0a0505"/>
<polygon points="648.3,562.2 672.8,567.0 672.0,572.2 647.5,567.5" fill="#0a0505"/>
<polygon points="652.8,532.2 677.2,536.7 673.9,558.9 648.9,554.4" fill="#5a6070"/>
<polygon points="654.5,534.5 675.5,538.5 672.5,557.0 651.0,553.0" fill="#1a2236"/>
<path d="M657,542 L670,544.5 M656.5,542 L655.5,549 M661,550 L668,551.5" stroke="#c8d0e0" stroke-width="1" fill="none"/>
<rect x="659.3" y="599.8" width="67.7" height="54.4" fill="#a8a8a8"/>
<rect x="659.3" y="599.8" width="67.7" height="4" fill="#bcbcbc"/>
<rect x="661" y="605" width="22" height="26" fill="#9c9c9c"/>
<rect x="703" y="605" width="23" height="26" fill="#9c9c9c"/>
<rect x="685.8" y="603.7" width="15.2" height="31" rx="5" fill="#d2d2d2"/>
<rect x="659.3" y="632" width="67.7" height="9" fill="#c8c8c8"/>
<rect x="686" y="644" width="25" height="2.5" fill="#e8e8e8"/>
<rect x="659.3" y="648.8" width="67.7" height="5.4" fill="#7c7c7c"/>
<g fill="#555"><rect x="669" y="617" width="8" height="1.2"/><rect x="669" y="619.5" width="8" height="1.2"/><rect x="708" y="618" width="9" height="1.2"/><rect x="708" y="620.5" width="6" height="1.2"/><rect x="697" y="651" width="14" height="1.2" fill="#222"/><rect x="662" y="651" width="14" height="1.2" fill="#333"/></g>
<g stroke="#ccc" stroke-width="0.8">
<line x1="349" y1="497" x2="357" y2="497"/>
<line x1="349" y1="508" x2="357" y2="508"/>
<line x1="349" y1="512.5" x2="357" y2="512.5"/>
<line x1="349" y1="517" x2="357" y2="517"/>
<line x1="349" y1="522" x2="357" y2="522"/>
<line x1="349" y1="527.5" x2="357" y2="527.5"/>
<line x1="474" y1="509" x2="484" y2="509"/>
<line x1="474" y1="513.5" x2="484" y2="513.5"/>
<line x1="474" y1="519" x2="484" y2="519"/>
<line x1="474" y1="521.5" x2="484" y2="521.5"/>
</g>
<rect x="356.8" y="497.1" width="118" height="10.2" fill="#505656"/>
<rect x="385.9" y="502.6" width="57.4" height="2.4" fill="#e8e8e8"/>
<rect x="378.8" y="505.7" width="72.4" height="2.3" fill="#e0e8e0"/>
<rect x="356.8" y="507.3" width="117.2" height="4.7" fill="#3c8020"/>
<rect x="356.8" y="512" width="117.2" height="6.3" fill="#d8dcd8"/>
<rect x="376" y="513" width="78" height="4.5" fill="#3a4242"/>
<rect x="384" y="514.6" width="62" height="1.3" fill="#e0e8e0"/>
<path d="M362,507 Q364,499 380,499 M468,507 Q466,499 452,499 M366,507 Q368,502 378,502 M464,507 Q462,502 454,502" stroke="#a89a40" stroke-width="0.8" fill="none"/>
<g fill="#e0a020"><rect x="363" y="506" width="2" height="3"/><rect x="463" y="506" width="2" height="3"/><rect x="468" y="506" width="2" height="3"/></g>
<rect x="356.8" y="518.3" width="117.2" height="4" fill="#3c8020"/>
<circle cx="362" cy="524.8" r="3" fill="#c8d0d8" stroke="#8a9aaa" stroke-width="0.6"/>
<circle cx="370" cy="524.8" r="3" fill="#c8d0d8" stroke="#8a9aaa" stroke-width="0.6"/>
<circle cx="379" cy="524.8" r="3" fill="#c8d0d8" stroke="#8a9aaa" stroke-width="0.6"/>
<circle cx="388" cy="524.8" r="3" fill="#c8d0d8" stroke="#8a9aaa" stroke-width="0.6"/>
<circle cx="438" cy="524.8" r="3" fill="#c8d0d8" stroke="#8a9aaa" stroke-width="0.6"/>
<circle cx="447" cy="524.8" r="3" fill="#c8d0d8" stroke="#8a9aaa" stroke-width="0.6"/>
<circle cx="456" cy="524.8" r="3" fill="#c8d0d8" stroke="#8a9aaa" stroke-width="0.6"/>
<circle cx="465" cy="524.8" r="3" fill="#c8d0d8" stroke="#8a9aaa" stroke-width="0.6"/>
<text x="337.5" y="503.5" font-size="5.5" font-weight="bold" fill="#222">B3</text>
<text x="337.5" y="515" font-size="5.5" font-weight="bold" fill="#222">B1</text>
<text x="337.5" y="525.5" font-size="5.5" font-weight="bold" fill="#222">A1</text>
<text x="487" y="513" font-size="5.5" font-weight="bold" fill="#222">B2</text>
<text x="487" y="522.5" font-size="5.5" font-weight="bold" fill="#222">A2</text>
<rect x="462.1" y="563.6" width="154.2" height="10.2" fill="#40d040"/>
<rect x="463" y="566.8" width="152.5" height="6.2" fill="#050505"/>
<rect x="470.5" y="566.8" width="1.6" height="6.2" fill="#d8b020"/>
<rect x="492.8" y="566.8" width="1.6" height="6.2" fill="#d8b020"/>
<rect x="510" y="566.8" width="1.6" height="6.2" fill="#d8b020"/>
<rect x="532" y="566.8" width="1.6" height="6.2" fill="#d8b020"/>
<rect x="546.5" y="566.8" width="1.6" height="6.2" fill="#d8b020"/>
<rect x="568.5" y="566.8" width="1.6" height="6.2" fill="#d8b020"/>
<rect x="584" y="566.8" width="1.6" height="6.2" fill="#d8b020"/>
<rect x="607" y="566.8" width="1.6" height="6.2" fill="#d8b020"/>
<rect x="503" y="556.5" width="76.4" height="8.7" fill="#d84a1a"/>
<rect x="515.6" y="561" width="50.4" height="4.2" fill="#fff"/>
<rect x="463.7" y="558" width="21.3" height="4" rx="1" fill="#000"/>
<rect x="594.3" y="558" width="20.5" height="4" rx="1" fill="#000"/>
<g fill="#777" opacity="0.7">
<rect x="470" y="548.6" width="10" height="1.1"/>
<rect x="468" y="551" width="14" height="1.1"/>
<rect x="500" y="549.5" width="20" height="1.1"/>
<rect x="533" y="549.5" width="26" height="1.1"/>
<rect x="581" y="550.5" width="12" height="1.1"/>
</g>
<g stroke="#888" stroke-width="0.5"><line x1="513" y1="551" x2="516" y2="557"/><line x1="545" y1="551" x2="547" y2="557"/><line x1="587" y1="552" x2="586" y2="563"/></g>
<g fill="#111">
<polygon points="520.0,564.5 522.0,562.3 524.0,564.5"/>
<polygon points="524.2,564.5 526.2,562.3 528.2,564.5"/>
<polygon points="528.4,564.5 530.4,562.3 532.4,564.5"/>
<polygon points="532.6,564.5 534.6,562.3 536.6,564.5"/>
<polygon points="536.8,564.5 538.8,562.3 540.8,564.5"/>
<polygon points="541.0,564.5 543.0,562.3 545.0,564.5"/>
<polygon points="545.2,564.5 547.2,562.3 549.2,564.5"/>
<polygon points="549.4,564.5 551.4,562.3 553.4,564.5"/>
<polygon points="553.6,564.5 555.6,562.3 557.6,564.5"/>
<polygon points="557.8,564.5 559.8,562.3 561.8,564.5"/>
<polygon points="562.0,564.5 564.0,562.3 566.0,564.5"/>
</g>
<line x1="350.6" y1="587.8" x2="485.7" y2="587.8" stroke="#e06080" stroke-width="0.8"/>
<rect x="375" y="584.5" width="82" height="1.2" fill="#f0a0b8"/>
<defs><pattern id="noise" width="3" height="3" patternUnits="userSpaceOnUse"><rect width="3" height="3" fill="#a4a4a4"/><rect x="0" y="0" width="1.5" height="1.5" fill="#6e6e6e"/><rect x="1.5" y="1.5" width="1.2" height="1.2" fill="#888"/></pattern></defs>
<rect x="349.6" y="592" width="137.1" height="19.5" fill="url(#noise)"/>
<rect x="380.2" y="595.7" width="77.8" height="17.6" fill="#e0e030"/>
<g fill="#9a9a60">
<rect x="382.5" y="595.7" width="1.5" height="17.6"/>
<rect x="387.9" y="595.7" width="1.5" height="17.6"/>
<rect x="393.4" y="595.7" width="1.5" height="17.6"/>
<rect x="398.9" y="595.7" width="1.5" height="17.6"/>
<rect x="404.3" y="595.7" width="1.5" height="17.6"/>
<rect x="409.8" y="595.7" width="1.5" height="17.6"/>
<rect x="415.2" y="595.7" width="1.5" height="17.6"/>
<rect x="420.6" y="595.7" width="1.5" height="17.6"/>
<rect x="426.1" y="595.7" width="1.5" height="17.6"/>
<rect x="431.6" y="595.7" width="1.5" height="17.6"/>
<rect x="437.0" y="595.7" width="1.5" height="17.6"/>
<rect x="442.4" y="595.7" width="1.5" height="17.6"/>
<rect x="447.9" y="595.7" width="1.5" height="17.6"/>
<rect x="453.4" y="595.7" width="1.5" height="17.6"/>
</g>
<g fill="#333">
<rect x="383.5" y="613.3" width="1" height="5"/>
<rect x="390.7" y="613.3" width="1" height="5"/>
<rect x="397.9" y="613.3" width="1" height="5"/>
<rect x="405.1" y="613.3" width="1" height="5"/>
<rect x="412.3" y="613.3" width="1" height="5"/>
<rect x="419.5" y="613.3" width="1" height="5"/>
<rect x="426.7" y="613.3" width="1" height="5"/>
<rect x="433.9" y="613.3" width="1" height="5"/>
<rect x="441.1" y="613.3" width="1" height="5"/>
<rect x="448.3" y="613.3" width="1" height="5"/>
<rect x="455.5" y="613.3" width="1" height="5"/>
</g>
<rect x="365.4" y="621.1" width="104.6" height="7.4" fill="url(#noise)"/>
<rect x="379.5" y="621.5" width="77.5" height="5" fill="#d8a060"/>
<rect x="375" y="626.3" width="88" height="2.4" fill="#6a3020"/>
<rect x="344" y="628.5" width="149.1" height="7.5" fill="#1a8a2a"/>
<rect x="385" y="631.2" width="65" height="1.8" fill="#c8e8c8"/>
<path d="M348.0,636 a5.2,5.2 0 0 0 10.4,0z" fill="#c8e4e4" stroke="#8ab8b8" stroke-width="0.5"/>
<path d="M360.3,636 a5.2,5.2 0 0 0 10.4,0z" fill="#c8e4e4" stroke="#8ab8b8" stroke-width="0.5"/>
<path d="M372.6,636 a5.2,5.2 0 0 0 10.4,0z" fill="#c8e4e4" stroke="#8ab8b8" stroke-width="0.5"/>
<path d="M384.9,636 a5.2,5.2 0 0 0 10.4,0z" fill="#c8e4e4" stroke="#8ab8b8" stroke-width="0.5"/>
<path d="M397.2,636 a5.2,5.2 0 0 0 10.4,0z" fill="#c8e4e4" stroke="#8ab8b8" stroke-width="0.5"/>
<path d="M409.5,636 a5.2,5.2 0 0 0 10.4,0z" fill="#c8e4e4" stroke="#8ab8b8" stroke-width="0.5"/>
<path d="M421.8,636 a5.2,5.2 0 0 0 10.4,0z" fill="#c8e4e4" stroke="#8ab8b8" stroke-width="0.5"/>
<path d="M434.1,636 a5.2,5.2 0 0 0 10.4,0z" fill="#c8e4e4" stroke="#8ab8b8" stroke-width="0.5"/>
<path d="M446.4,636 a5.2,5.2 0 0 0 10.4,0z" fill="#c8e4e4" stroke="#8ab8b8" stroke-width="0.5"/>
<path d="M458.7,636 a5.2,5.2 0 0 0 10.4,0z" fill="#c8e4e4" stroke="#8ab8b8" stroke-width="0.5"/>
<path d="M471.0,636 a5.2,5.2 0 0 0 10.4,0z" fill="#c8e4e4" stroke="#8ab8b8" stroke-width="0.5"/>
<path d="M483.3,636 a5.2,5.2 0 0 0 10.4,0z" fill="#c8e4e4" stroke="#8ab8b8" stroke-width="0.5"/>
<rect x="494" y="597.5" width="17" height="1.8" fill="#8ab0e8"/><rect x="497" y="604" width="12" height="1.8" fill="#8ab0e8"/>
<rect x="492" y="623.8" width="21" height="1.8" fill="#8ab0e8"/>
<line x1="472" y1="624.7" x2="488" y2="624.7" stroke="#222" stroke-width="0.9"/>
<line x1="341.3" y1="597.6" x2="341.3" y2="640" stroke="#e06080" stroke-width="0.7"/>
<rect x="328" y="619.3" width="10" height="1.3" fill="#e88898"/><rect x="329" y="623.3" width="9" height="1.3" fill="#e88898"/>
<text x="266.7" y="142.3" textLength="26.2" lengthAdjust="spacingAndGlyphs" font-family="Liberation Sans" font-size="17.5" fill="#000" fill-opacity="0.78" stroke="#000" stroke-opacity="0.78" stroke-width="0.55">DIP</text>
<text x="375.8" y="142.6" textLength="30.9" lengthAdjust="spacingAndGlyphs" font-family="Liberation Sans" font-size="17.5" fill="#000" fill-opacity="0.78" stroke="#000" stroke-opacity="0.78" stroke-width="0.55">SOP</text>
<text x="464" y="142.3" textLength="27.7" lengthAdjust="spacingAndGlyphs" font-family="Liberation Sans" font-size="17.5" fill="#000" fill-opacity="0.78" stroke="#000" stroke-opacity="0.78" stroke-width="0.55">SOJ</text>
<text x="538.3" y="142.6" textLength="40.0" lengthAdjust="spacingAndGlyphs" font-family="Liberation Sans" font-size="17.5" fill="#000" fill-opacity="0.78" stroke="#000" stroke-opacity="0.78" stroke-width="0.55">SSOP</text>
<text x="624" y="142.6" textLength="39.0" lengthAdjust="spacingAndGlyphs" font-family="Liberation Sans" font-size="17.5" fill="#000" fill-opacity="0.78" stroke="#000" stroke-opacity="0.78" stroke-width="0.55">TSOP</text>
<text x="350" y="245.1" textLength="24.0" lengthAdjust="spacingAndGlyphs" font-family="Liberation Sans" font-size="17.5" fill="#000" fill-opacity="0.78" stroke="#000" stroke-opacity="0.78" stroke-width="0.55">ZIP</text>
<text x="467.5" y="237.6" textLength="28.3" lengthAdjust="spacingAndGlyphs" font-family="Liberation Sans" font-size="17.5" fill="#000" fill-opacity="0.78" stroke="#000" stroke-opacity="0.78" stroke-width="0.55">QFJ</text>
<text x="525" y="274.3" textLength="30.0" lengthAdjust="spacingAndGlyphs" font-family="Liberation Sans" font-size="17.5" fill="#000" fill-opacity="0.78" stroke="#000" stroke-opacity="0.78" stroke-width="0.55">QFP</text>
<text x="652.6" y="272.8" textLength="84.6" lengthAdjust="spacingAndGlyphs" font-family="Liberation Sans" font-size="17.5" fill="#000" fill-opacity="0.78" stroke="#000" stroke-opacity="0.78" stroke-width="0.55">TQFP/LQFP</text>
<text x="337.3" y="311.3" textLength="82.3" lengthAdjust="spacingAndGlyphs" font-family="Liberation Sans" font-size="17.5" fill="#000" fill-opacity="0.78" stroke="#000" stroke-opacity="0.78" stroke-width="0.55">Skinny DIP</text>
<text x="358.8" y="394.8" textLength="78.5" lengthAdjust="spacingAndGlyphs" font-family="Liberation Sans" font-size="17.5" fill="#000" fill-opacity="0.78" stroke="#000" stroke-opacity="0.78" stroke-width="0.55">Shrink DIP</text>
<text x="629.8" y="358.1" textLength="28.2" lengthAdjust="spacingAndGlyphs" font-family="Liberation Sans" font-size="17.5" fill="#000" fill-opacity="0.78" stroke="#000" stroke-opacity="0.78" stroke-width="0.55">TCP</text>
<text x="472.5" y="435.3" textLength="69.5" lengthAdjust="spacingAndGlyphs" font-family="Liberation Sans" font-size="17.5" fill="#000" fill-opacity="0.78" stroke="#000" stroke-opacity="0.78" stroke-width="0.55">BGA/LGA</text>
<text x="725.6" y="432.7" textLength="29.4" lengthAdjust="spacingAndGlyphs" font-family="Liberation Sans" font-size="17.5" fill="#000" fill-opacity="0.78" stroke="#000" stroke-opacity="0.78" stroke-width="0.55">CSP</text>
<text x="685" y="507.6" textLength="34.7" lengthAdjust="spacingAndGlyphs" font-family="Liberation Sans" font-size="17.5" fill="#000" fill-opacity="0.78" stroke="#000" stroke-opacity="0.78" stroke-width="0.55">FCIP</text>
<text x="800" y="480.8" textLength="96.7" lengthAdjust="spacingAndGlyphs" font-family="Liberation Sans" font-size="17.5" fill="#000" fill-opacity="0.78" stroke="#000" stroke-opacity="0.78" stroke-width="0.55">Stacked Pkg.</text>
<text x="806.7" y="553.7" textLength="33.3" lengthAdjust="spacingAndGlyphs" font-family="Liberation Sans" font-size="17.5" fill="#000" fill-opacity="0.78" stroke="#000" stroke-opacity="0.78" stroke-width="0.55">WLP</text>
<text x="397.4" y="542.6" textLength="30.8" lengthAdjust="spacingAndGlyphs" font-family="Liberation Sans" font-size="17.5" fill="#000" fill-opacity="0.78" stroke="#000" stroke-opacity="0.78" stroke-width="0.55">PoP</text>
<text x="516.7" y="595.1" textLength="25.8" lengthAdjust="spacingAndGlyphs" font-family="Liberation Sans" font-size="17.5" fill="#000" fill-opacity="0.78" stroke="#000" stroke-opacity="0.78" stroke-width="0.55">SiP</text>
<text x="516.2" y="647.5" textLength="42.1" lengthAdjust="spacingAndGlyphs" font-family="Liberation Sans" font-size="17.5" fill="#000" fill-opacity="0.78" stroke="#000" stroke-opacity="0.78" stroke-width="0.55">3D IC</text>
<text x="745.3" y="658.1" textLength="43.5" lengthAdjust="spacingAndGlyphs" font-family="Liberation Sans" font-size="17.5" fill="#000" fill-opacity="0.78" stroke="#000" stroke-opacity="0.78" stroke-width="0.55">3D IC</text>
<rect x="1074" y="356" width="20" height="56" rx="6" fill="none" stroke="#a8a8a8" stroke-width="2"/>
<path d="M317,709.5 L318.5,710.6 L320.0,708.4 L321.5,710.6 L323.0,708.4 L324.5,710.6 L326.0,708.4 L327.5,710.6 L329.0,708.4 L330.5,710.6 L332.0,708.4 L333.5,710.6 L335.0,708.4 L336.5,710.6 L338.0,708.4 L339.5,710.6 L341.0,708.4 L342.5,710.6 L344.0,708.4 L345.5,710.6 L347.0,708.4 L348.5,710.6 L350.0,708.4 L351.5,710.6 L353.0,708.4 L354.5,710.6 L356.0,708.4 L357.5,710.6 L359.0,708.4 L360.5,710.6 L362.0,708.4 L363.5,710.6 L365.0,708.4 L366.5,710.6 L368.0,708.4 L369.5,710.6 L371.0,708.4 L372.5,710.6 L374.0,708.4 L375.5,710.6 L377.0,708.4 L378.5,710.6 L380.0,708.4 L381.5,710.6 L383.0,708.4 L384.5,710.6 L386.0,708.4 L387.5,710.6 L389.0,708.4 L390.5,710.6 L392.0,708.4 L393.5,710.6 L395.0,708.4 L396.5,710.6 L398.0,708.4 L399.5,710.6 L401.0,708.4 L402.5,710.6 L404.0,708.4 L405.5,710.6" fill="none" stroke="#e03030" stroke-width="0.8"/>
<path d="M939,709.5 L940.5,710.6 L942.0,708.4 L943.5,710.6 L945.0,708.4 L946.5,710.6 L948.0,708.4 L949.5,710.6 L951.0,708.4 L952.5,710.6 L954.0,708.4 L955.5,710.6 L957.0,708.4 L958.5,710.6 L960.0,708.4 L961.5,710.6 L963.0,708.4 L964.5,710.6 L966.0,708.4 L967.5,710.6 L969.0,708.4 L970.5,710.6 L972.0,708.4 L973.5,710.6 L975.0,708.4 L976.5,710.6 L978.0,708.4" fill="none" stroke="#e03030" stroke-width="0.8"/>
</svg>
<div class="t" style="left:19px;top:2px;font-size:22px;font-style:italic;font-weight:bold;line-height:30px;color:#000;letter-spacing:3px;">图表</div>
<div class="t" style="left:79px;top:1px;font-size:24px;font-style:italic;font-weight:bold;line-height:30px;color:#000;">19</div>
<div class="t" style="left:101px;top:1px;font-size:24px;font-style:italic;font-weight:bold;line-height:30px;color:#000;">：</div>
<div class="t" style="left:134px;top:2px;font-size:22px;font-style:italic;font-weight:bold;line-height:30px;color:#000;letter-spacing:5.1px;">封装技术演进流程</div>
<div class="t" style="left:15.5px;top:688px;font-size:17.5px;line-height:24px;color:#111;letter-spacing:1.8px;">来源</div>
<div class="t" style="left:50px;top:688px;font-size:17.5px;line-height:24px;color:#111;">：</div>
<div class="t" style="left:64px;top:688px;font-size:17.5px;line-height:24px;color:#111;">《</div>
<div class="t" style="left:83px;top:688px;position:absolute;margin-top:2px;font-family:'Liberation Mono',monospace;font-size:16.2px;line-height:24px;color:#111;transform:scaleY(1.2);transform-origin:0 18px;">Flip-Chip Packaging for Nanoscale Silicon Logic Devices: Challenges and Opportunities</div>
<div class="t" style="left:909px;top:688px;font-size:17.5px;line-height:24px;color:#111;">》</div>
<div class="t" style="left:921px;top:688px;font-size:17.5px;line-height:24px;color:#111;">、</div>
<div class="t" style="left:940.5px;top:688px;font-size:17.5px;line-height:24px;color:#111;letter-spacing:2px;">国金证券研究</div>
<div class="t" style="left:15.5px;top:729px;font-size:17.5px;line-height:24px;color:#111;">所</div>
<div class="t" style="left:1021px;top:734px;font-size:18px;line-height:24px;color:#f4f4f4;letter-spacing:-0.5px;text-shadow:0 0 1.5px #9a9a9a,1px 1px 1px #b0b0b0;">格隆汇</div>
<svg style="position:absolute;left:995px;top:733px" width="26" height="26" viewBox="0 0 26 26"><g style="filter:drop-shadow(0.5px 0.8px 0.8px #999)"><path d="M4,3 H20 Q23,3 23,6 V22 L19,18 V9 H8 V18 H15 L19,22 H6 Q3,22 3,19 V6 Q3,3 6,3 Z M11,12 H19 V17 Z" fill="#f6f6f6" stroke="#c8c8c8" stroke-width="0.7"/></g></svg>
</body></html>
